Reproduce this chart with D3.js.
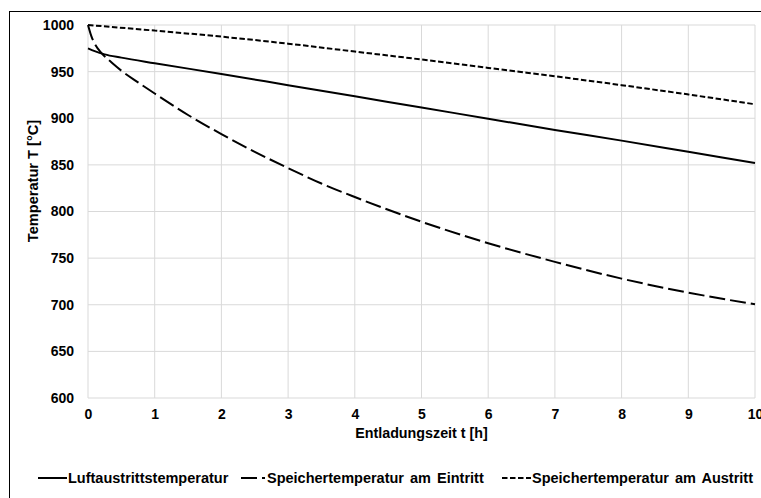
<!DOCTYPE html>
<html>
<head>
<meta charset="utf-8">
<script src="https://cdn.jsdelivr.net/npm/d3@7"></script>
<style>
  body { margin: 0; background: #fff; }
  svg text { font-family: "Liberation Sans", Arial, sans-serif; font-weight: bold; fill: #000; }
</style>
</head>
<body>
<svg id="chart" width="761" height="498"></svg>
<script>
// Entladung des Speichers: Temperaturverlauf ueber die Zeit.

// Achsen
var xTicks = [0, 1, 2, 3, 4, 5, 6, 7, 8, 9, 10];
var yTicks = [600, 650, 700, 750, 800, 850, 900, 950, 1000];

// Luftaustrittstemperatur (durchgezogen)
var zeitLuft = [0, 0.1, 0.25, 0.5, 1, 2, 3, 4, 5, 6, 7, 8, 9, 10];
var tempLuft = [975, 972, 968.5, 965, 959, 947.5, 935.5, 923.5, 911.5, 899.5, 887.5, 876, 864, 852];

// Speichertemperatur am Eintritt (lang gestrichelt)
var zeitEin = [0, 0.05, 0.1, 0.2, 0.35, 0.5, 0.75, 1, 1.5, 2, 2.5, 3, 3.5, 4, 5, 6, 7, 8, 9, 10];
var tempEin = [1000, 988, 980, 970, 960, 951, 938.5, 926.5, 903.5, 883, 864, 846.5, 830, 815.5, 789, 766, 746, 728, 713, 700.5];

// Speichertemperatur am Austritt (kurz gestrichelt)
var zeitAus = [0, 1, 2, 3, 4, 5, 6, 7, 8, 9, 10];
var tempAus = [1000, 994, 987.5, 980, 971.5, 963, 954, 945, 935.5, 925.5, 915];

var seriesNames = ["Luftaustrittstemperatur", "Speichertemperatur am Eintritt", "Speichertemperatur am Austritt"];

var svg = d3.select("#chart"),
    width = +svg.attr("width"),
    height = +svg.attr("height");

var margin = { top: 25, right: 6, bottom: 100, left: 88 };

var x = d3.scaleLinear().domain([0, 10]).range([margin.left, width - margin.right]);
var y = d3.scaleLinear().domain([600, 1000]).range([height - margin.bottom, margin.top]);

// Rahmen (rechts und unten ausserhalb des Bildes)
svg.append("rect")
   .attr("x", 9.5).attr("y", 11.5)
   .attr("width", 800).attr("height", 600)
   .attr("fill", "none").attr("stroke", "#000").attr("stroke-width", 1);

// Gitterlinien
var grid = svg.append("g").attr("class", "grid");
grid.selectAll("line.h")
    .data(yTicks)
    .enter().append("line")
    .attr("class", "h")
    .attr("x1", x(0)).attr("x2", x(10))
    .attr("y1", function(d) { return y(d); })
    .attr("y2", function(d) { return y(d); })
    .attr("stroke", "#d9d9d9").attr("stroke-width", 1);
grid.selectAll("line.v")
    .data(xTicks)
    .enter().append("line")
    .attr("class", "v")
    .attr("y1", y(600)).attr("y2", y(1000))
    .attr("x1", function(d) { return x(d); })
    .attr("x2", function(d) { return x(d); })
    .attr("stroke", "#d9d9d9").attr("stroke-width", 1);

// Achsen ohne Linien, nur Beschriftung
var yAxis = svg.append("g")
   .attr("transform", "translate(" + x(0) + ",0)")
   .call(d3.axisLeft(y).tickValues(yTicks).tickFormat(d3.format("d")).tickSize(0).tickPadding(14));
var xAxis = svg.append("g")
   .attr("transform", "translate(0," + y(600) + ")")
   .call(d3.axisBottom(x).tickValues(xTicks).tickFormat(d3.format("d")).tickSize(0).tickPadding(11));
[yAxis, xAxis].forEach(function(a) {
  a.select(".domain").remove();
  a.selectAll("text")
   .style("font-family", "'Liberation Sans', Arial, sans-serif")
   .style("font-weight", "bold")
   .style("font-size", "14px")
   .attr("fill", "#000");
});

// Achsentitel
svg.append("text")
   .attr("x", (x(0) + x(10)) / 2)
   .attr("y", 437.5)
   .attr("text-anchor", "middle")
   .style("font-size", "14.3px")
   .text("Entladungszeit t [h]");

svg.append("text")
   .attr("transform", "translate(37.5,181) rotate(-90)")
   .attr("text-anchor", "middle")
   .style("font-size", "14.6px")
   .text("Temperatur T [°C]");

// Kurven
var line = d3.line()
  .x(function(d) { return x(d[0]); })
  .y(function(d) { return y(d[1]); })
  .curve(d3.curveMonotoneX);

var series = [
  { name: seriesNames[0], t: zeitLuft, v: tempLuft, dash: null },
  { name: seriesNames[1], t: zeitEin, v: tempEin, dash: "16,5" },
  { name: seriesNames[2], t: zeitAus, v: tempAus, dash: "5.5,2.5" }
];

svg.append("g").attr("class", "lines")
   .selectAll("path")
   .data(series)
   .enter().append("path")
   .attr("d", function(s) { return line(d3.zip(s.t, s.v)); })
   .attr("fill", "none")
   .attr("stroke", "#000")
   .attr("stroke-width", 2)
   .attr("stroke-dasharray", function(s) { return s.dash; });

// Legende
var legendX = [38, 241, 502];
var legend = svg.append("g").attr("class", "legend")
   .selectAll("g")
   .data(series)
   .enter().append("g")
   .attr("transform", function(s, i) { return "translate(" + legendX[i] + ",478)"; });

legend.append("line")
   .attr("x1", 0).attr("x2", function(s, i) { return i === 1 ? 24 : 29; })
   .attr("y1", 0).attr("y2", 0)
   .attr("stroke", "#000").attr("stroke-width", 2)
   .attr("stroke-dasharray", function(s) { return s.dash; });

legend.append("text")
   .attr("x", function(s, i) { return i === 1 ? 26 : 30; })
   .attr("y", 5.3)
   .style("font-size", "14.5px")
   .style("word-spacing", function(s, i) { return i === 0 ? null : "2px"; })
   .text(function(s) { return s.name; });
</script>
</body>
</html>
